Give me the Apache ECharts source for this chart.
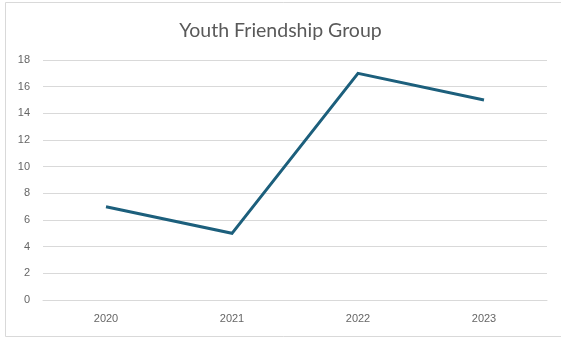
<!DOCTYPE html>
<html>
<head>
<meta charset="utf-8">
<script src="https://cdn.jsdelivr.net/npm/echarts@6/dist/echarts.min.js"></script>
<style>
  html, body { margin: 0; padding: 0; background: #fff; }
  #chart { width: 561px; height: 338px; }
</style>
</head>
<body>
<div id="chart"></div>
<script>
// Members per year
const years = ['2020', '2021', '2022', '2023'];
const members = [7, 5, 17, 15];
const yTicks = { min: 0, max: 18, interval: 2 };

const chart = echarts.init(document.getElementById('chart'));
chart.setOption({
  backgroundColor: '#ffffff',
  animation: false,
  title: {
    text: 'Youth Friendship Group',
    left: 'center',
    top: 16,
    textStyle: {
      fontFamily: 'Lato',
      fontSize: 19.5,
      fontWeight: 'normal',
      color: '#595959'
    }
  },
  graphic: [{
    type: 'rect',
    shape: { x: 5.5, y: 2.5, width: 560, height: 334 },
    style: { fill: 'none', stroke: '#d9d9d9', lineWidth: 1 },
    silent: true
  }],
  grid: { left: 43, right: 14, top: 60, bottom: 38 },
  xAxis: {
    type: 'category',
    data: years,
    boundaryGap: true,
    axisLine: { show: true, lineStyle: { color: '#d9d9d9', width: 1 } },
    axisTick: { show: false },
    axisLabel: {
      color: '#666666',
      fontFamily: 'Liberation Sans',
      fontSize: 11,
      margin: 13
    }
  },
  yAxis: {
    type: 'value',
    min: yTicks.min,
    max: yTicks.max,
    interval: yTicks.interval,
    axisLine: { show: false },
    axisTick: { show: false },
    splitLine: { lineStyle: { color: '#d9d9d9', width: 1 } },
    axisLabel: {
      color: '#666666',
      fontFamily: 'Liberation Sans',
      fontSize: 11,
      margin: 13
    }
  },
  series: [{
    type: 'line',
    data: members,
    symbol: 'none',
    lineStyle: { color: '#1c5f7c', width: 3, join: 'miter' }
  }]
});
</script>
</body>
</html>
